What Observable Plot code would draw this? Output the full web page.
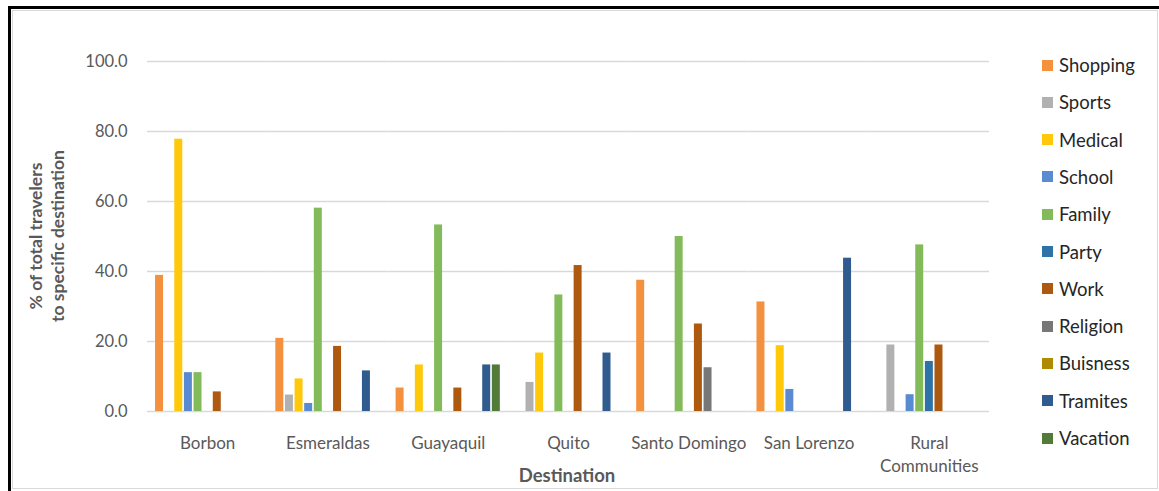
<!DOCTYPE html>
<html>
<head>
<meta charset="utf-8">
<script src="https://cdn.jsdelivr.net/npm/d3@7"></script>
<script src="https://cdn.jsdelivr.net/npm/@observablehq/plot@0.6"></script>
<style>
  html, body { margin: 0; padding: 0; background: #fff; }
  #chart { position: relative; width: 1159px; height: 491px; overflow: hidden; font-family: Lato, "Open Sans", sans-serif; }
  #chart svg { position: absolute; left: 0; top: 0; }
  .frame-dark-left { position: absolute; left: 8px; top: 6px; width: 2.5px; height: 490px; background: #000; }
  .frame-dark-top { position: absolute; left: 8px; top: 6px; width: 1160px; height: 2.5px; background: #000; }
  .frame-light { position: absolute; left: 12px; top: 10px; width: 1144px; height: 477px; border: 1.5px solid #d9d9d9; }
  .ytitle { position: absolute; width: 260px; left: -83px; top: 214px; height: 44px; line-height: 22px;
            transform: rotate(-90deg); text-align: center; font-weight: bold; font-size: 17.5px; color: #595959; }
  .xtitle { position: absolute; left: 467px; width: 200px; top: 464px; text-align: center;
            font-weight: bold; font-size: 18.5px; color: #595959; }
  .legend-item { position: absolute; left: 1042px; height: 24px; line-height: 24px; font-size: 18.5px; color: #262626; white-space: nowrap; }
  .legend-item .sw { position: absolute; left: 0; top: 6.5px; width: 11px; height: 11px; }
  .legend-item .lbl { position: absolute; left: 17px; top: 0; }
</style>
</head>
<body>
<div id="chart">
  <div class="frame-light"></div>
  <div class="frame-dark-left"></div>
  <div class="frame-dark-top"></div>
</div>
<script>
// Destinations along the x axis
const destinations = ["Borbon", "Esmeraldas", "Guayaquil", "Quito", "Santo Domingo", "San Lorenzo", "Rural Communities"];
const destinationLabels = ["Borbon", "Esmeraldas", "Guayaquil", "Quito", "Santo Domingo", "San Lorenzo", "Rural\nCommunities"];

// Trip purposes (series)
const purposes = ["Shopping", "Sports", "Medical", "School", "Family", "Party", "Work", "Religion", "Buisness", "Tramites", "Vacation"];
const palette = ["#f4913f", "#b1b1b1", "#ffc80a", "#5a8ad1", "#84bb5a", "#2e73a8", "#ae5910", "#777777", "#ae8b00", "#2f5b8e", "#527a39"];

// % of travelers per destination, one array per purpose (destination order as above)
const shopping = [38.9, 20.9, 6.7, 0, 37.5, 31.3, 0];
const sports   = [0, 4.7, 0, 8.3, 0, 0, 19.0];
const medical  = [77.8, 9.3, 13.3, 16.7, 0, 18.8, 0];
const school   = [11.1, 2.3, 0, 0, 0, 6.3, 4.8];
const family   = [11.1, 58.1, 53.3, 33.3, 50.0, 0, 47.6];
const party    = [0, 0, 0, 0, 0, 0, 14.3];
const work     = [5.6, 18.6, 6.7, 41.7, 25.0, 0, 19.0];
const religion = [0, 0, 0, 0, 12.5, 0, 0];
const buisness = [0, 0, 0, 0, 0, 0, 0];
const tramites = [0, 11.6, 13.3, 16.7, 0, 43.8, 0];
const vacation = [0, 0, 13.3, 0, 0, 0, 0];

const yTicks = [0, 20, 40, 60, 80, 100];

const seriesValues = [shopping, sports, medical, school, family, party, work, religion, buisness, tramites, vacation];

// Long-format table for Plot
const rows = [];
purposes.forEach((p, i) => {
  destinations.forEach((d, j) => {
    rows.push({dest: d, purpose: p, value: seriesValues[i][j]});
  });
});

const labelOf = new Map(destinations.map((d, i) => [d, destinationLabels[i]]));

const svg = Plot.plot({
  width: 1159,
  height: 491,
  marginLeft: 147,
  marginRight: 170,
  marginTop: 61,
  marginBottom: 80,
  style: {fontFamily: "Lato, 'Open Sans', sans-serif", fontSize: "16.5px", color: "#595959", background: "transparent", overflow: "visible"},
  facet: {data: rows, x: "dest"},
  fx: {domain: destinations, padding: 0, round: false, axis: "bottom", label: null, tickSize: 0, tickPadding: 25, tickFormat: d => labelOf.get(d)},
  x: {domain: purposes, paddingInner: 0.17, paddingOuter: 0.835, round: false, axis: null},
  y: {domain: [0, 100], ticks: yTicks, tickFormat: d => d.toFixed(1), tickSize: 0, tickPadding: 20, label: null},
  color: {domain: purposes, range: palette},
  marks: [
    Plot.ruleY(yTicks, {stroke: "#d9d9d9", strokeWidth: 1.5}),
    Plot.barY(rows, {x: "purpose", y: "value", fill: "purpose"})
  ]
});

// Category labels: slightly larger type, and two-line labels with looser leading
d3.select(svg).selectAll("text").each(function() {
  const t = d3.select(this);
  const txt = this.textContent;
  const isCategory = destinationLabels.some(l => l.replace(/\s/g, "") === txt.replace(/\s/g, ""));
  if (!isCategory) return;
  t.style("font-size", "17px");
  const spans = t.selectAll("tspan");
  if (spans.size() === 0 && txt.includes("\n")) {
    const parts = txt.split("\n");
    t.text(null);
    parts.forEach((s, k) => {
      t.append("tspan").attr("x", 0).attr("dy", k === 0 ? "0.71em" : "1.35em").text(s);
    });
    t.attr("dy", null);
  } else if (spans.size() > 1) {
    spans.each(function(_, k) {
      if (k > 0) d3.select(this).attr("dy", "1.35em");
    });
  }
});

const chart = document.getElementById("chart");
chart.appendChild(svg);

// Axis titles
const yTitle = document.createElement("div");
yTitle.className = "ytitle";
yTitle.innerHTML = "% of total travelers<br>to specific destination";
chart.appendChild(yTitle);

const xTitle = document.createElement("div");
xTitle.className = "xtitle";
xTitle.textContent = "Destination";
chart.appendChild(xTitle);

// Vertical legend on the right
purposes.forEach((p, i) => {
  const item = document.createElement("div");
  item.className = "legend-item";
  item.style.top = (53 + i * 37.3) + "px";
  const sw = document.createElement("span");
  sw.className = "sw";
  sw.style.background = palette[i];
  const lbl = document.createElement("span");
  lbl.className = "lbl";
  lbl.textContent = p;
  item.appendChild(sw);
  item.appendChild(lbl);
  chart.appendChild(item);
});
</script>
</body>
</html>
